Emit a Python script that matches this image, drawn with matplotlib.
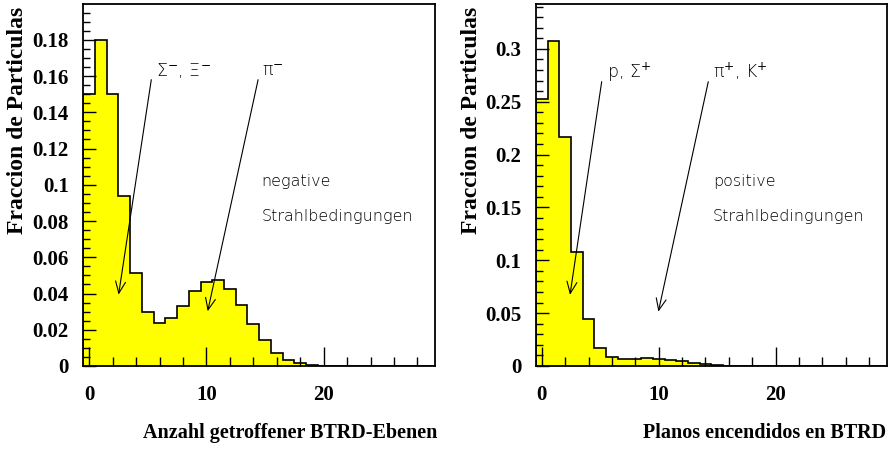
import numpy as np
import matplotlib
matplotlib.use("Agg")
import matplotlib.pyplot as plt
from matplotlib.ticker import MultipleLocator, FuncFormatter

# bins centred on 0..29 (number of BTRD planes hit)
bin_edges = np.arange(-0.5, 30.5, 1.0)

neg_frac = [0.150, 0.180, 0.150, 0.0937, 0.0511, 0.0298, 0.0237, 0.0265, 0.0333, 0.0413,
            0.0465, 0.0474, 0.0426, 0.0339, 0.0233, 0.0141, 0.0074, 0.0033, 0.0015, 0.0006,
            0.0002, 0.0001, 0, 0, 0, 0, 0, 0, 0, 0]
pos_frac = [0.253, 0.307, 0.217, 0.108, 0.0442, 0.0174, 0.0082, 0.0063, 0.0063, 0.0073,
            0.0066, 0.0057, 0.0047, 0.0032, 0.0016, 0.0006, 0.0002, 0.0001, 0, 0,
            0, 0, 0, 0, 0, 0, 0, 0, 0, 0]

ylabel = "Fraccion de Particulas"
xlabel_left = "Anzahl getroffener BTRD-Ebenen"
xlabel_right = "Planos encendidos en BTRD"

serif = "Liberation Serif"
sans = "DejaVu Sans"
plt.rcParams["mathtext.fontset"] = "dejavusans"

fig = plt.figure(figsize=(8.88, 4.49), dpi=100)
ax1 = fig.add_axes([0.0938, 0.1849, 0.3961, 0.8051])
ax2 = fig.add_axes([0.6036, 0.1849, 0.3949, 0.8051])


def style_axis(ax, ymax, ymajor, yminor):
    ax.set_xlim(-0.5, 29.5)
    ax.set_ylim(0, ymax)
    ax.xaxis.set_major_locator(MultipleLocator(10))
    ax.xaxis.set_minor_locator(MultipleLocator(2))
    ax.yaxis.set_major_locator(MultipleLocator(ymajor))
    ax.yaxis.set_minor_locator(MultipleLocator(yminor))
    ax.yaxis.set_major_formatter(FuncFormatter(lambda v, p: f"{v:g}"))
    ax.xaxis.set_major_formatter(FuncFormatter(lambda v, p: f"{v:g}"))
    ax.tick_params(axis="x", which="major", direction="in", length=13.5, width=1, pad=14)
    ax.tick_params(axis="x", which="minor", direction="in", length=6.5, width=1)
    ax.tick_params(axis="y", which="major", direction="in", length=9, width=1, pad=10.5)
    ax.tick_params(axis="y", which="minor", direction="in", length=5, width=1)
    ax.tick_params(top=False, right=False, which="both")
    for lab in ax.get_xticklabels() + ax.get_yticklabels():
        lab.set_fontfamily(serif)
        lab.set_fontweight("bold")
        lab.set_fontsize(15)
    for sp in ax.spines.values():
        sp.set_linewidth(1.3)


def arrow(ax, text_xy, tip_xy):
    ax.annotate("", xy=tip_xy, xytext=text_xy,
                arrowprops=dict(arrowstyle="->,head_length=0.7,head_width=0.3",
                                mutation_scale=12, lw=0.8, color="black",
                                shrinkA=0, shrinkB=0))


txt = dict(family=sans, fontweight="light", color="black")

# left: negative beam
ax1.stairs(neg_frac, bin_edges, fill=True, facecolor="#ffff00", edgecolor="none")
ax1.stairs(neg_frac, bin_edges, color="black", lw=1.2)
style_axis(ax1, 0.1995, 0.02, 0.005)
ax1.text(5.67, 0.160, r"Σ$^{-}$, Ξ$^{-}$", fontsize=12.5, **txt)
ax1.text(14.7, 0.160, r"π$^{-}$", fontsize=12.5, **txt)
ax1.text(14.7, 0.0996, "negative", fontsize=11.5, **txt)
ax1.text(14.7, 0.080, "Strahlbedingungen", fontsize=11.5, **txt)
arrow(ax1, (5.30, 0.158), (2.51, 0.0394))
arrow(ax1, (14.41, 0.158), (10.11, 0.0302))

# right: positive beam
ax2.stairs(pos_frac, bin_edges, fill=True, facecolor="#ffff00", edgecolor="none")
ax2.stairs(pos_frac, bin_edges, color="black", lw=1.2)
style_axis(ax2, 0.342, 0.05, 0.01)
ax2.text(5.58, 0.2725, r"p, Σ$^{+}$", fontsize=12.5, **txt)
ax2.text(14.65, 0.2725, r"π$^{+}$, K$^{+}$", fontsize=12.5, **txt)
ax2.text(14.65, 0.170, "positive", fontsize=11.5, **txt)
ax2.text(14.65, 0.1367, "Strahlbedingungen", fontsize=11.5, **txt)
arrow(ax2, (5.12, 0.269), (2.41, 0.0673))
arrow(ax2, (14.24, 0.269), (9.97, 0.0514))

lab = dict(family=serif, fontweight="bold")
fig.text(17.5 / 888, 1 - 7 / 449, ylabel, rotation=90, ha="center", va="top", fontsize=17, **lab)
fig.text(471.5 / 888, 1 - 7 / 449, ylabel, rotation=90, ha="center", va="top", fontsize=17, **lab)
fig.text(437 / 888, 1 - 438 / 449, xlabel_left, ha="right", va="baseline", fontsize=14.5, **lab)
fig.text(886 / 888, 1 - 438 / 449, xlabel_right, ha="right", va="baseline", fontsize=14.5, **lab)

fig.savefig("out.png", dpi=100)
